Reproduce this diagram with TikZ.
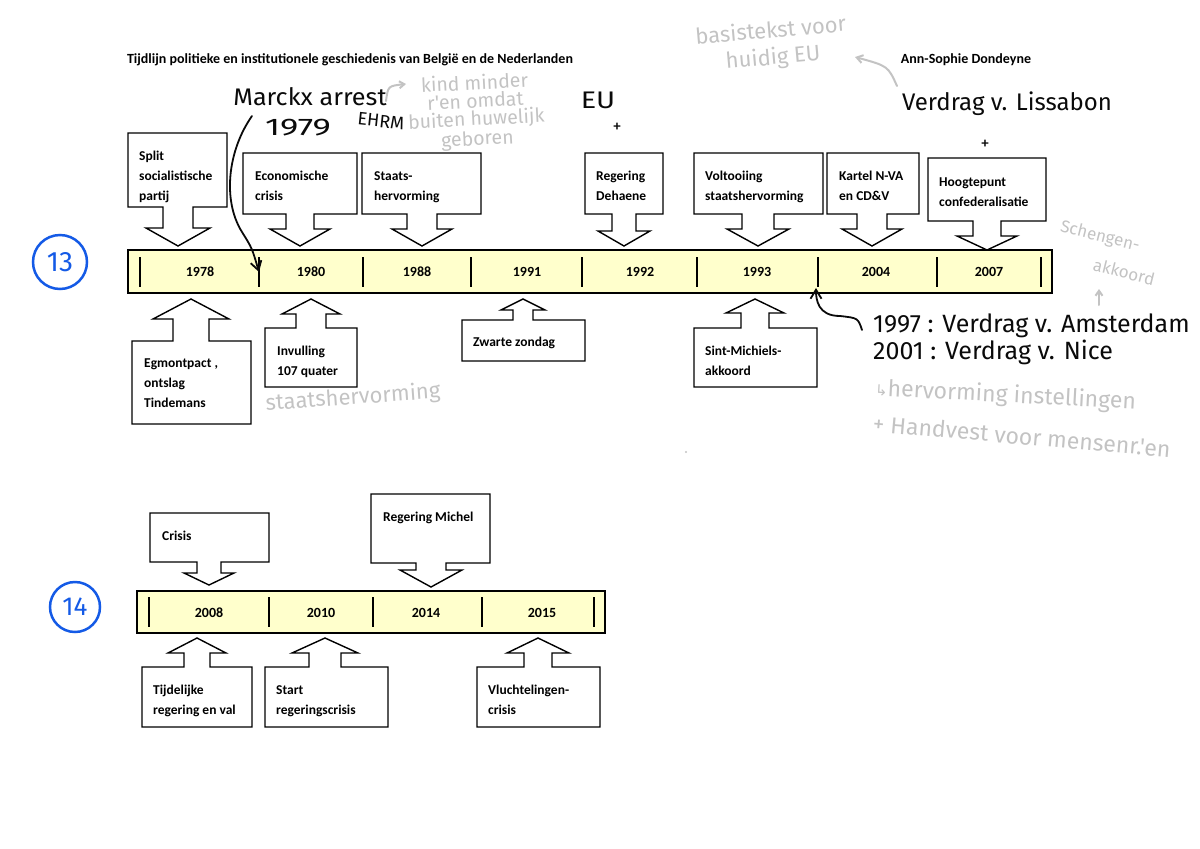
\documentclass[tikz,border=0pt]{standalone}
\usepackage{fontspec}
\setmainfont{Carlito}
\newfontfamily\hand{Fira Sans}
\newfontfamily\dv{DejaVu Sans}
\usetikzlibrary{arrows.meta}
\definecolor{barfill}{RGB}{255,255,204}
\definecolor{pen}{RGB}{10,10,10}
\definecolor{pencil}{RGB}{195,195,195}
\definecolor{bluepen}{RGB}{20,90,230}
\tikzset{
  callout/.style={draw=black,fill=white,line width=1.4pt,line join=miter},
  bar/.style={draw=black,fill=barfill,line width=1.4pt},
  tick/.style={draw=black,line width=1.3pt},
  boxtext/.style={anchor=base west,align=left,inner sep=0pt,font=\bfseries\fontsize{13.5}{20}\selectfont},
  year/.style={inner sep=0pt,font=\bfseries\fontsize{14}{15}\selectfont},
  headtext/.style={inner sep=0pt,font=\bfseries\fontsize{14}{15}\selectfont},
  blackhand/.style={inner sep=0pt,text=pen,font=\hand\fontsize{24}{26}\selectfont},
  grayhand/.style={inner sep=0pt,text=pencil,font=\hand\fontsize{19.5}{18}\selectfont},
  penline/.style={draw=pen,line width=1.8pt,line cap=round},
  pencilline/.style={draw=pencil,line width=2pt,line cap=round},
}
% #1 x1, #2 far edge y, #3 x2, #4 near edge y, #5 tip x, #6 shaft half width, #7 head half width, #8 head base y, #9 tip y
\newcommand\calloutshape[9]{%
  \draw[callout] (#1,#2) -- (#3,#2) -- (#3,#4) -- ({#5+#6},#4) -- ({#5+#6},#8) -- ({#5+#7},#8)
   -- (#5,#9) -- ({#5-#7},#8) -- ({#5-#6},#8) -- ({#5-#6},#4) -- (#1,#4) -- cycle;}
\begin{document}
\begin{tikzpicture}[x=1pt,y=-1pt]
\useasboundingbox (0,0) rectangle (1200,849);

% headings
\node[headtext] (title) at (350,60) {Tijdlijn politieke en institutionele geschiedenis van België en de Nederlanden};
\node[headtext] (author) at (966,60) {Ann-Sophie Dondeyne};

% ===== timeline 13 =====
\draw[bar] (128,250) rectangle (1052,293);
\foreach \x in {140,259,363,471,582,697,818,937,1041} \draw[tick] (\x,257) -- (\x,287);
\foreach \x/\y in {200/1978,311/1980,417/1988,527/1991,640/1992,757/1993,876/2004,989/2007}
  \node[year] (y\y) at (\x,272) {\y};

% (base anchor = baseline of the last line)
\calloutshape{128}{133}{227}{207}{178}{15}{32}{228}{246}
\node[boxtext] (split) at (139,200) {Split\\socialistische\\partij};
\calloutshape{243}{153}{357}{214}{300}{14}{30}{229}{246}
\node[boxtext] (econ) at (255,200) {Economische\\crisis};
\calloutshape{362}{153}{481}{214}{422}{15}{30}{229}{246}
\node[boxtext] (staats) at (374,200) {Staats-\\hervorming};
\calloutshape{585}{153}{663}{214}{624}{12}{26}{231}{246}
\node[boxtext] (dehaene) at (596,200) {Regering\\Dehaene};
\calloutshape{694}{153}{823}{214}{758}{16}{31}{229}{246}
\node[boxtext] (voltooiing) at (705,200) {Voltooiing\\staatshervorming};
\calloutshape{827}{153}{919}{214}{872}{15}{30}{229}{246}
\node[boxtext] (kartel) at (839,200) {Kartel N-VA\\en CD\&V};
\calloutshape{928}{158}{1046}{221}{987}{14}{30}{236}{250}
\node[boxtext] (hoogtepunt) at (939,206) {Hoogtepunt\\confederalisatie};

\calloutshape{132}{424}{251}{341}{191}{18}{38}{319}{299}
\node[boxtext] (egmont) at (144,407) {Egmontpact ,\\ontslag\\Tindemans};
\calloutshape{265}{387}{357}{328}{311}{15}{29}{314}{299}
\node[boxtext] (invulling) at (277,375) {Invulling\\107 quater};
\calloutshape{462}{361}{585}{320}{523}{10}{22}{310}{299}
\node[boxtext] (zwarte) at (473,346) {Zwarte zondag};
\calloutshape{694}{387}{817}{328}{755}{14}{29}{313}{299}
\node[boxtext] (michiels) at (705,375) {Sint-Michiels-\\akkoord};

% ===== timeline 14 =====
\draw[bar] (137,591) rectangle (605,633);
\foreach \x in {149,269,373,482,594} \draw[tick] (\x,597) -- (\x,627);
\foreach \x/\y in {209/2008,321/2010,426/2014,542/2015}
  \node[year] (y\y) at (\x,613) {\y};

\calloutshape{150}{513}{269}{562}{209}{12}{25}{573}{585}
\node[boxtext] (crisis) at (162,540) {Crisis};
\calloutshape{371}{494}{490}{563}{431}{15}{31}{570}{587}
\node[boxtext] (michel) at (383,521) {Regering Michel};
\calloutshape{142}{727}{252}{667}{197}{13}{29}{653}{638}
\node[boxtext] (tijdelijke) at (153,714) {Tijdelijke\\regering en val};
\calloutshape{265}{727}{388}{667}{325}{16}{33}{653}{638}
\node[boxtext] (start) at (276,714) {Start\\regeringscrisis};
\calloutshape{477}{727}{600}{667}{538}{14}{31}{653}{638}
\node[boxtext] (vlucht) at (488,714) {Vluchtelingen-\\crisis};

% ===== handwritten notes =====
\node[circle,draw=bluepen,line width=2.5pt,minimum size=54pt,inner sep=0pt,text=bluepen,font=\hand\fontsize{28}{28}\selectfont] (c13) at (60,262) {13};
\node[circle,draw=bluepen,line width=2.5pt,minimum size=50pt,inner sep=0pt,text=bluepen,font=\hand\fontsize{26}{26}\selectfont] (c14) at (75,607) {14};

\node[blackhand,xscale=1.05] (marckx) at (310,97) {Marckx arrest};
\node[blackhand,xscale=1.45] (y1979) at (298,128) {1979};
\node[blackhand,font=\hand\fontsize{18}{20}\selectfont,rotate=-6] (ehrm) at (381,121) {EHRM};
\coordinate (m1979) at (252,116);
\coordinate (t1980) at (259,272);
\draw[penline,-{Straight Barb[length=9pt,width=11pt]}] (m1979) .. controls (228,150) and (222,200) .. (242,232) .. controls (252,248) .. (t1980);

\node[grayhand,align=center,rotate=3] (kind) at (476,112) {kind minder\\r'en omdat\\buiten huwelijk\\geboren};
\coordinate (kindarr) at (386,101);
\coordinate (kindtip) at (406,84);
\draw[pencilline,-{Straight Barb[length=5pt,width=7pt]}] (kindarr) .. controls (388,86) .. (kindtip);

\node[blackhand,xscale=1.2] (eu) at (598,100) {EU};
\node[blackhand,font=\hand\fontsize{18}{18}\selectfont] (plus1) at (617,128) {+};

\node[grayhand,align=center,font=\hand\fontsize{22}{27}\selectfont,rotate=5] (basis) at (772,45) {basistekst voor\\huidig EU};
\coordinate (lisarr) at (897,86);
\draw[pencilline,-{Straight Barb[length=6pt,width=8pt]}] (lisarr) .. controls (888,66) .. (855,57);

\node[blackhand] (lissabon) at (1007,104) {Verdrag v. Lissabon};
\node[blackhand,font=\hand\fontsize{18}{18}\selectfont] (plus2) at (985,145) {+};

\node[grayhand,font=\hand\fontsize{22}{20}\selectfont,rotate=4] (staatsh) at (353,398) {staatshervorming};

\node[grayhand,font=\hand\fontsize{17}{17}\selectfont,rotate=-14] (schengen) at (1100,237) {Schengen-};
\node[grayhand,font=\hand\fontsize{17}{17}\selectfont,rotate=-14] (akkoord) at (1124,272) {akkoord};
\coordinate (schfoot) at (1099,305);
\coordinate (schtip) at (1099,289);
\draw[pencilline,-{Straight Barb[length=5pt,width=7pt]}] (schfoot) -- (schtip);

\node[blackhand,anchor=west,align=left,font=\hand\fontsize{25}{27}\selectfont] (verdragen) at (873,339) {1997 : Verdrag v. Amsterdam\\2001 : Verdrag v. Nice};
\coordinate (amsstart) at (862,330);
\coordinate (t2004) at (816,288);
\draw[penline,-{Straight Barb[length=9pt,width=11pt]}] (amsstart) .. controls (858,318) .. (840,316) .. controls (818,316) and (816,300) .. (t2004);

\node[grayhand,anchor=west,font=\hand\fontsize{23}{20}\selectfont,rotate=-3] (hervorming) at (875,389) {{\dv\fontsize{15}{15}\selectfont ↳}hervorming instellingen};
\node[grayhand,anchor=west,font=\hand\fontsize{23}{20}\selectfont,rotate=-5] (handvest) at (873,423) {+ Handvest voor mensenr.'en};
\fill[pencil] (686,452) circle (1.2pt);
\end{tikzpicture}
\end{document}
